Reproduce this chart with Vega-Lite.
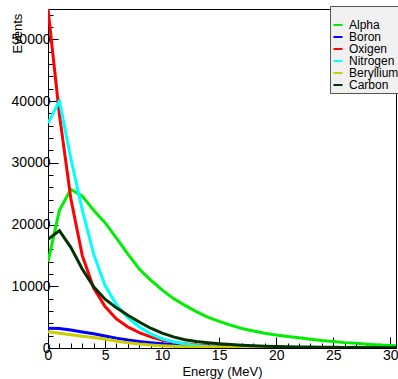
{
  "$schema": "https://vega.github.io/schema/vega-lite/v6.json",
  "width": 348,
  "height": 339,
  "autosize": "none",
  "padding": {"left": 48, "top": 9, "right": 2, "bottom": 31},
  "background": "white",
  "config": {
    "view": {"stroke": "black", "strokeWidth": 1},
    "font": "Liberation Sans",
    "axis": {"grid": false, "domainColor": "black", "tickColor": "black", "labelColor": "black", "titleColor": "black", "labelFont": "Liberation Sans", "titleFont": "Liberation Sans", "titleFontWeight": "normal", "labelOverlap": false, "labelFlush": false, "labelBound": false}
  },
  "data": {
    "values": [
      {"s":"Alpha","e":0,"n":14000},{"s":"Alpha","e":1,"n":22300},{"s":"Alpha","e":2,"n":25700},{"s":"Alpha","e":3,"n":24600},{"s":"Alpha","e":4,"n":22300},{"s":"Alpha","e":5,"n":20300},{"s":"Alpha","e":6,"n":17800},{"s":"Alpha","e":7,"n":15200},{"s":"Alpha","e":8,"n":12800},{"s":"Alpha","e":9,"n":11000},{"s":"Alpha","e":10,"n":9400},{"s":"Alpha","e":11,"n":8000},{"s":"Alpha","e":12,"n":6900},{"s":"Alpha","e":13,"n":5900},{"s":"Alpha","e":14,"n":5000},{"s":"Alpha","e":15,"n":4300},{"s":"Alpha","e":16,"n":3700},{"s":"Alpha","e":17,"n":3150},{"s":"Alpha","e":18,"n":2750},{"s":"Alpha","e":19,"n":2400},{"s":"Alpha","e":20,"n":2100},{"s":"Alpha","e":21,"n":1850},{"s":"Alpha","e":22,"n":1650},{"s":"Alpha","e":23,"n":1400},{"s":"Alpha","e":24,"n":1200},{"s":"Alpha","e":25,"n":1050},{"s":"Alpha","e":26,"n":870},{"s":"Alpha","e":27,"n":750},{"s":"Alpha","e":28,"n":620},{"s":"Alpha","e":29,"n":500},{"s":"Alpha","e":30,"n":400},{"s":"Alpha","e":30.5,"n":360},
      {"s":"Boron","e":0,"n":3200},{"s":"Boron","e":1,"n":3150},{"s":"Boron","e":2,"n":2900},{"s":"Boron","e":3,"n":2600},{"s":"Boron","e":4,"n":2300},{"s":"Boron","e":5,"n":1950},{"s":"Boron","e":6,"n":1600},{"s":"Boron","e":7,"n":1300},{"s":"Boron","e":8,"n":1050},{"s":"Boron","e":9,"n":850},{"s":"Boron","e":10,"n":680},{"s":"Boron","e":11,"n":540},{"s":"Boron","e":12,"n":430},{"s":"Boron","e":13,"n":340},{"s":"Boron","e":14,"n":270},{"s":"Boron","e":15,"n":210},{"s":"Boron","e":16,"n":160},{"s":"Boron","e":17,"n":120},{"s":"Boron","e":18,"n":90},{"s":"Boron","e":19,"n":70},{"s":"Boron","e":20,"n":50},{"s":"Boron","e":21,"n":40},{"s":"Boron","e":22,"n":30},{"s":"Boron","e":23,"n":25},{"s":"Boron","e":24,"n":20},{"s":"Boron","e":25,"n":15},{"s":"Boron","e":26,"n":10},{"s":"Boron","e":27,"n":8},{"s":"Boron","e":28,"n":6},{"s":"Boron","e":29,"n":5},{"s":"Boron","e":30,"n":4},{"s":"Boron","e":30.5,"n":4},
      {"s":"Oxigen","e":0,"n":54900},{"s":"Oxigen","e":1,"n":37800},{"s":"Oxigen","e":2,"n":24200},{"s":"Oxigen","e":3,"n":15000},{"s":"Oxigen","e":4,"n":9700},{"s":"Oxigen","e":5,"n":6700},{"s":"Oxigen","e":6,"n":4700},{"s":"Oxigen","e":7,"n":3400},{"s":"Oxigen","e":8,"n":2500},{"s":"Oxigen","e":9,"n":1800},{"s":"Oxigen","e":10,"n":1300},{"s":"Oxigen","e":11,"n":950},{"s":"Oxigen","e":12,"n":700},{"s":"Oxigen","e":13,"n":500},{"s":"Oxigen","e":14,"n":350},{"s":"Oxigen","e":15,"n":250},{"s":"Oxigen","e":16,"n":170},{"s":"Oxigen","e":17,"n":120},{"s":"Oxigen","e":18,"n":80},{"s":"Oxigen","e":19,"n":50},{"s":"Oxigen","e":20,"n":30},{"s":"Oxigen","e":21,"n":20},{"s":"Oxigen","e":22,"n":15},{"s":"Oxigen","e":23,"n":10},{"s":"Oxigen","e":24,"n":8},{"s":"Oxigen","e":25,"n":5},{"s":"Oxigen","e":26,"n":4},{"s":"Oxigen","e":27,"n":3},{"s":"Oxigen","e":28,"n":2},{"s":"Oxigen","e":29,"n":1},{"s":"Oxigen","e":30,"n":1},{"s":"Oxigen","e":30.5,"n":1},
      {"s":"Nitrogen","e":0,"n":36400},{"s":"Nitrogen","e":1,"n":40000},{"s":"Nitrogen","e":2,"n":30700},{"s":"Nitrogen","e":3,"n":22400},{"s":"Nitrogen","e":4,"n":15200},{"s":"Nitrogen","e":5,"n":10100},{"s":"Nitrogen","e":6,"n":7000},{"s":"Nitrogen","e":7,"n":4900},{"s":"Nitrogen","e":8,"n":3400},{"s":"Nitrogen","e":9,"n":2300},{"s":"Nitrogen","e":10,"n":1500},{"s":"Nitrogen","e":11,"n":1000},{"s":"Nitrogen","e":12,"n":650},{"s":"Nitrogen","e":13,"n":400},{"s":"Nitrogen","e":14,"n":250},{"s":"Nitrogen","e":15,"n":150},{"s":"Nitrogen","e":16,"n":90},{"s":"Nitrogen","e":17,"n":50},{"s":"Nitrogen","e":18,"n":30},{"s":"Nitrogen","e":19,"n":20},{"s":"Nitrogen","e":20,"n":10},{"s":"Nitrogen","e":21,"n":5},{"s":"Nitrogen","e":22,"n":3},{"s":"Nitrogen","e":23,"n":2},{"s":"Nitrogen","e":24,"n":1},{"s":"Nitrogen","e":25,"n":1},{"s":"Nitrogen","e":26,"n":0},{"s":"Nitrogen","e":27,"n":0},{"s":"Nitrogen","e":28,"n":0},{"s":"Nitrogen","e":29,"n":0},{"s":"Nitrogen","e":30,"n":0},{"s":"Nitrogen","e":30.5,"n":0},
      {"s":"Beryllium","e":0,"n":2650},{"s":"Beryllium","e":1,"n":2400},{"s":"Beryllium","e":2,"n":2150},{"s":"Beryllium","e":3,"n":1900},{"s":"Beryllium","e":4,"n":1700},{"s":"Beryllium","e":5,"n":1450},{"s":"Beryllium","e":6,"n":1100},{"s":"Beryllium","e":7,"n":850},{"s":"Beryllium","e":8,"n":650},{"s":"Beryllium","e":9,"n":500},{"s":"Beryllium","e":10,"n":380},{"s":"Beryllium","e":11,"n":290},{"s":"Beryllium","e":12,"n":220},{"s":"Beryllium","e":13,"n":170},{"s":"Beryllium","e":14,"n":130},{"s":"Beryllium","e":15,"n":100},{"s":"Beryllium","e":16,"n":75},{"s":"Beryllium","e":17,"n":55},{"s":"Beryllium","e":18,"n":40},{"s":"Beryllium","e":19,"n":30},{"s":"Beryllium","e":20,"n":20},{"s":"Beryllium","e":21,"n":15},{"s":"Beryllium","e":22,"n":10},{"s":"Beryllium","e":23,"n":8},{"s":"Beryllium","e":24,"n":6},{"s":"Beryllium","e":25,"n":5},{"s":"Beryllium","e":26,"n":4},{"s":"Beryllium","e":27,"n":3},{"s":"Beryllium","e":28,"n":2},{"s":"Beryllium","e":29,"n":2},{"s":"Beryllium","e":30,"n":1},{"s":"Beryllium","e":30.5,"n":1},
      {"s":"Carbon","e":0,"n":17600},{"s":"Carbon","e":1,"n":19000},{"s":"Carbon","e":2,"n":16300},{"s":"Carbon","e":3,"n":12800},{"s":"Carbon","e":4,"n":9900},{"s":"Carbon","e":5,"n":7900},{"s":"Carbon","e":6,"n":6500},{"s":"Carbon","e":7,"n":5300},{"s":"Carbon","e":8,"n":4200},{"s":"Carbon","e":9,"n":3200},{"s":"Carbon","e":10,"n":2400},{"s":"Carbon","e":11,"n":1800},{"s":"Carbon","e":12,"n":1350},{"s":"Carbon","e":13,"n":1050},{"s":"Carbon","e":14,"n":850},{"s":"Carbon","e":15,"n":680},{"s":"Carbon","e":16,"n":550},{"s":"Carbon","e":17,"n":450},{"s":"Carbon","e":18,"n":370},{"s":"Carbon","e":19,"n":300},{"s":"Carbon","e":20,"n":250},{"s":"Carbon","e":21,"n":210},{"s":"Carbon","e":22,"n":180},{"s":"Carbon","e":23,"n":150},{"s":"Carbon","e":24,"n":130},{"s":"Carbon","e":25,"n":110},{"s":"Carbon","e":26,"n":95},{"s":"Carbon","e":27,"n":85},{"s":"Carbon","e":28,"n":75},{"s":"Carbon","e":29,"n":65},{"s":"Carbon","e":30,"n":60},{"s":"Carbon","e":30.5,"n":55}
    ]
  },
  "mark": {"type": "line", "strokeWidth": 3, "clip": true, "interpolate": "linear"},
  "encoding": {
    "x": {
      "field": "e", "type": "quantitative",
      "scale": {"domain": [0, 30.5], "nice": false, "zero": false},
      "axis": {
        "values": [0,1,2,3,4,5,6,7,8,9,10,11,12,13,14,15,16,17,18,19,20,21,22,23,24,25,26,27,28,29,30],
        "tickSize": {"condition": {"test": "datum.value % 5 === 0", "value": -11}, "value": -5},
        "labelExpr": "datum.value % 5 === 0 ? datum.label : ''",
        "labelPadding": 11,
        "labelFontSize": 14,
        "title": "Energy (MeV)",
        "titleFontSize": 13,
        "titleY": 27,
        "titleBaseline": "alphabetic"
      }
    },
    "y": {
      "field": "n", "type": "quantitative",
      "scale": {"domain": [0, 54900], "nice": false},
      "axis": {
        "values": [0,2000,4000,6000,8000,10000,12000,14000,16000,18000,20000,22000,24000,26000,28000,30000,32000,34000,36000,38000,40000,42000,44000,46000,48000,50000,52000,54000],
        "format": "d",
        "tickSize": {"condition": {"test": "datum.value % 10000 === 0", "value": -10}, "value": -5},
        "labelExpr": "datum.value % 10000 === 0 ? datum.label : ''",
        "labelPadding": 8,
        "labelFontSize": 14,
        "title": "Events",
        "titleFontSize": 13,
        "titleAngle": 270,
        "titleAlign": "left",
        "titleBaseline": "alphabetic",
        "titleX": -27,
        "titleY": 44
      }
    },
    "color": {
      "field": "s", "type": "nominal",
      "scale": {
        "domain": ["Alpha","Boron","Oxigen","Nitrogen","Beryllium","Carbon"],
        "range": ["#00ee00","#0000ff","#ff0000","#00ffff","#cccc00","#003300"]
      },
      "legend": {
        "orient": "none",
        "legendX": 282,
        "legendY": -3,
        "title": " ",
        "titleFontSize": 11,
        "titlePadding": 0,
        "fillColor": "#f0f0f0",
        "strokeColor": "#555555",
        "padding": 2,
        "symbolType": "stroke",
        "symbolSize": 81,
        "symbolStrokeWidth": 2,
        "labelFontSize": 12,
        "labelFont": "Liberation Sans",
        "labelColor": "black",
        "labelOffset": 5,
        "rowPadding": 0
      }
    },
    "order": {"field": "e", "type": "quantitative"}
  }
}
